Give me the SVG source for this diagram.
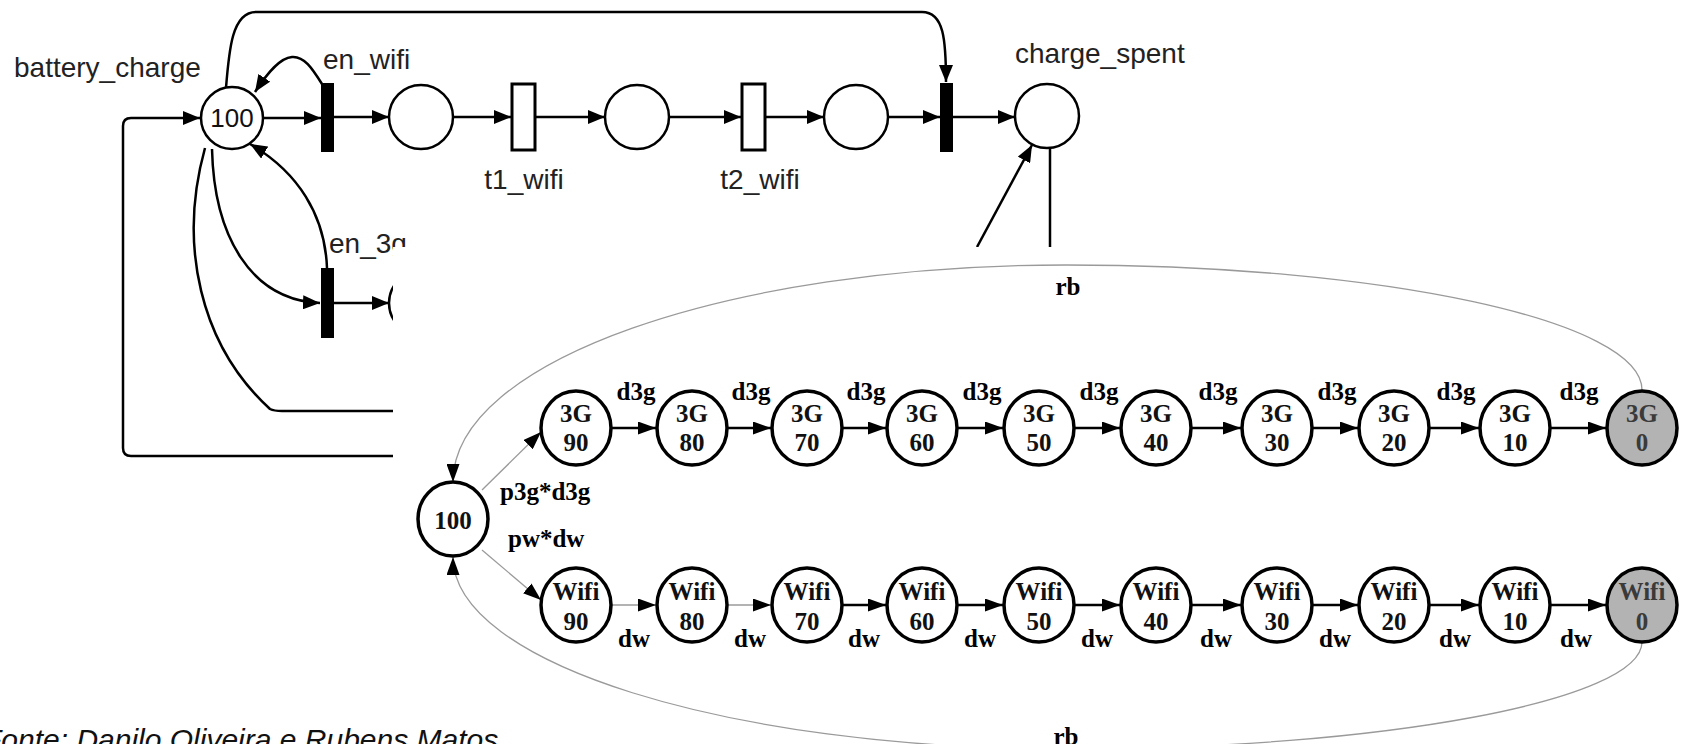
<svg xmlns="http://www.w3.org/2000/svg" width="1685" height="744" viewBox="0 0 1685 744">
  <style>
    .pn-line { fill: none; stroke: #000; stroke-width: 2.5; }
    .place { fill: #fff; stroke: #000; stroke-width: 2.5; }
    .tr-imm { fill: #000; }
    .tr-timed { fill: #fff; stroke: #000; stroke-width: 3; }
    .pn-label { font-family: "Liberation Sans", Arial, sans-serif; font-size: 28px; fill: #222; }
    .pn-token { font-family: "Liberation Sans", Arial, sans-serif; font-size: 26px; fill: #111; text-anchor: middle; }
    .state { fill: #fff; stroke: #000; stroke-width: 3.5; }
    .state-abs { fill: #b3b3b3; stroke: #000; stroke-width: 3.5; }
    .st-text { font-family: "Liberation Serif", "Times New Roman", serif; font-size: 25px; font-weight: bold; fill: #111; text-anchor: middle; }
    .st-text-abs { font-family: "Liberation Serif", "Times New Roman", serif; font-size: 25px; font-weight: bold; fill: #3a3a3a; text-anchor: middle; }
    .rate { font-family: "Liberation Serif", "Times New Roman", serif; font-size: 25px; font-weight: bold; fill: #000; text-anchor: middle; }
    .rate-start { font-family: "Liberation Serif", "Times New Roman", serif; font-size: 25px; font-weight: bold; fill: #000; }
    .mc-edge { fill: none; stroke: #000; stroke-width: 2.5; }
    .mc-thin { fill: none; stroke: #9a9a9a; stroke-width: 1.3; }
    .caption { font-family: "Liberation Sans", Arial, sans-serif; font-size: 30px; font-style: italic; fill: #111; }
  </style>
  <defs>
    <marker id="arrP" markerUnits="userSpaceOnUse" markerWidth="17" markerHeight="14" refX="17" refY="7" orient="auto">
      <path d="M0,0 L17,7 L0,14 Z" fill="#000"/>
    </marker>
    <marker id="arrM" markerUnits="userSpaceOnUse" markerWidth="18" markerHeight="13" refX="18" refY="6.5" orient="auto">
      <path d="M0,0 L18,6.5 L0,13 Z" fill="#000"/>
    </marker>
    <clipPath id="pnClip">
      <path d="M0,0 H1685 V247 H393 V744 H0 Z"/>
    </clipPath>
  </defs>

  <rect width="1685" height="744" fill="#fff"/>

  <!-- Petri net (lower right part hidden behind the chain panel) -->
  <g id="petri-net" clip-path="url(#pnClip)">
    <g id="pn-arcs">
      <path class="pn-line" d="M226,88 C229,50 232,12 256,12 H922 C944,12 946,40 946,82" marker-end="url(#arrP)"/>
      <path class="pn-line" d="M322,84 C312,68 304,56 292,57 C280,58 268,72 255,92" marker-end="url(#arrP)"/>
      <path class="pn-line" d="M327,268 C325,215 298,172 250,144" marker-end="url(#arrP)"/>
      <path class="pn-line" d="M212,149 C214,235 250,300 320,303" marker-end="url(#arrP)"/>
      <path class="pn-line" d="M205,148 C178,245 200,345 270,409 Q274,411 282,411 H393"/>
      <path class="pn-line" d="M393,456 H131 Q123,456 123,448 V126 Q123,118 131,118 H200" marker-end="url(#arrP)"/>
      <path class="pn-line" d="M263,118 H321" marker-end="url(#arrP)"/>
      <path class="pn-line" d="M334,117 H389" marker-end="url(#arrP)"/>
      <path class="pn-line" d="M453,117 H511" marker-end="url(#arrP)"/>
      <path class="pn-line" d="M536,117 H605" marker-end="url(#arrP)"/>
      <path class="pn-line" d="M669,117 H741" marker-end="url(#arrP)"/>
      <path class="pn-line" d="M766,117 H824" marker-end="url(#arrP)"/>
      <path class="pn-line" d="M888,117 H940" marker-end="url(#arrP)"/>
      <path class="pn-line" d="M953,117 H1015" marker-end="url(#arrP)"/>
      <path class="pn-line" d="M977,247 L1032,145" marker-end="url(#arrP)"/>
      <path class="pn-line" d="M1050,148 V247"/>
      <path class="pn-line" d="M334,303 H389" marker-end="url(#arrP)"/>
    </g>

    <g id="battery_charge">
      <circle class="place" cx="232" cy="118" r="31"/>
      <text class="pn-token" x="232" y="127">100</text>
      <text class="pn-label" x="14" y="77">battery_charge</text>
    </g>
    <g id="en_wifi">
      <rect class="tr-imm" x="321" y="83" width="13" height="69"/>
      <text class="pn-label" x="323" y="69">en_wifi</text>
    </g>
    <g id="p_wifi_1">
      <circle class="place" cx="421" cy="117" r="32"/>
    </g>
    <g id="t1_wifi">
      <rect class="tr-timed" x="512" y="84" width="23" height="66"/>
      <text class="pn-label" x="524" y="189" text-anchor="middle">t1_wifi</text>
    </g>
    <g id="p_wifi_2">
      <circle class="place" cx="637" cy="117" r="32"/>
    </g>
    <g id="t2_wifi">
      <rect class="tr-timed" x="742" y="84" width="23" height="66"/>
      <text class="pn-label" x="760" y="189" text-anchor="middle">t2_wifi</text>
    </g>
    <g id="p_wifi_3">
      <circle class="place" cx="856" cy="117" r="32"/>
    </g>
    <g id="t_spend_wifi">
      <rect class="tr-imm" x="940" y="83" width="13" height="69"/>
    </g>
    <g id="charge_spent">
      <circle class="place" cx="1047" cy="116" r="32"/>
      <text class="pn-label" x="1015" y="63">charge_spent</text>
    </g>
    <g id="en_3g">
      <rect class="tr-imm" x="321" y="268" width="13" height="70"/>
      <text class="pn-label" x="329" y="253">en_3g</text>
    </g>
    <g id="p_3g_1">
      <circle class="place" cx="421" cy="303" r="32"/>
    </g>
  </g>

  <!-- Markov chain -->
  <g id="mc-edges">
    <path class="mc-thin" d="M1642,390 C1642,321 1384,265 1066,265 C727,265 453,361 453,482" marker-end="url(#arrM)"/>
    <path class="mc-thin" d="M1642,642 C1642,700 1384,749 1066,749 C727,749 453,663 453,557" marker-end="url(#arrM)"/>
    <path class="mc-thin" d="M482,490 L541,432" marker-end="url(#arrM)"/>
    <path class="mc-thin" d="M482,550 L541,600" marker-end="url(#arrM)"/>
    <!-- 3G chain -->
    <path class="mc-edge" d="M612,428 H656" marker-end="url(#arrM)"/>
    <path class="mc-edge" d="M728,428 H771" marker-end="url(#arrM)"/>
    <path class="mc-edge" d="M843,428 H886" marker-end="url(#arrM)"/>
    <path class="mc-edge" d="M958,428 H1003" marker-end="url(#arrM)"/>
    <path class="mc-edge" d="M1075,428 H1120" marker-end="url(#arrM)"/>
    <path class="mc-edge" d="M1192,428 H1241" marker-end="url(#arrM)"/>
    <path class="mc-edge" d="M1313,428 H1358" marker-end="url(#arrM)"/>
    <path class="mc-edge" d="M1430,428 H1479" marker-end="url(#arrM)"/>
    <path class="mc-edge" d="M1551,428 H1606" marker-end="url(#arrM)"/>
    <!-- Wifi chain -->
    <path class="mc-thin" d="M612,605 H656" marker-end="url(#arrM)"/>
    <path class="mc-thin" d="M728,605 H771" marker-end="url(#arrM)"/>
    <path class="mc-edge" d="M843,605 H886" marker-end="url(#arrM)"/>
    <path class="mc-edge" d="M958,605 H1003" marker-end="url(#arrM)"/>
    <path class="mc-edge" d="M1075,605 H1120" marker-end="url(#arrM)"/>
    <path class="mc-edge" d="M1192,605 H1241" marker-end="url(#arrM)"/>
    <path class="mc-edge" d="M1313,605 H1358" marker-end="url(#arrM)"/>
    <path class="mc-edge" d="M1430,605 H1479" marker-end="url(#arrM)"/>
    <path class="mc-edge" d="M1551,605 H1606" marker-end="url(#arrM)"/>
  </g>

  <g id="mc-labels">
    <text class="rate" x="1068" y="295">rb</text>
    <text class="rate" x="1066" y="745">rb</text>
    <text class="rate-start" x="500" y="500">p3g*d3g</text>
    <text class="rate-start" x="508" y="547">pw*dw</text>
    <text class="rate" x="636" y="400">d3g</text>
    <text class="rate" x="751" y="400">d3g</text>
    <text class="rate" x="866" y="400">d3g</text>
    <text class="rate" x="982" y="400">d3g</text>
    <text class="rate" x="1099" y="400">d3g</text>
    <text class="rate" x="1218" y="400">d3g</text>
    <text class="rate" x="1337" y="400">d3g</text>
    <text class="rate" x="1456" y="400">d3g</text>
    <text class="rate" x="1579" y="400">d3g</text>
    <text class="rate" x="634" y="647">dw</text>
    <text class="rate" x="750" y="647">dw</text>
    <text class="rate" x="864" y="647">dw</text>
    <text class="rate" x="980" y="647">dw</text>
    <text class="rate" x="1097" y="647">dw</text>
    <text class="rate" x="1216" y="647">dw</text>
    <text class="rate" x="1335" y="647">dw</text>
    <text class="rate" x="1455" y="647">dw</text>
    <text class="rate" x="1576" y="647">dw</text>
  </g>

  <g id="s100">
    <ellipse class="state" cx="453" cy="519" rx="35" ry="37"/>
    <text class="st-text" x="453" y="529" font-size="29">100</text>
  </g>

  <g id="s3g90"><ellipse class="state" cx="576" cy="428" rx="35" ry="37"/><text class="st-text" x="576" y="422">3G</text><text class="st-text" x="576" y="451">90</text></g>
  <g id="s3g80"><ellipse class="state" cx="692" cy="428" rx="35" ry="37"/><text class="st-text" x="692" y="422">3G</text><text class="st-text" x="692" y="451">80</text></g>
  <g id="s3g70"><ellipse class="state" cx="807" cy="428" rx="35" ry="37"/><text class="st-text" x="807" y="422">3G</text><text class="st-text" x="807" y="451">70</text></g>
  <g id="s3g60"><ellipse class="state" cx="922" cy="428" rx="35" ry="37"/><text class="st-text" x="922" y="422">3G</text><text class="st-text" x="922" y="451">60</text></g>
  <g id="s3g50"><ellipse class="state" cx="1039" cy="428" rx="35" ry="37"/><text class="st-text" x="1039" y="422">3G</text><text class="st-text" x="1039" y="451">50</text></g>
  <g id="s3g40"><ellipse class="state" cx="1156" cy="428" rx="35" ry="37"/><text class="st-text" x="1156" y="422">3G</text><text class="st-text" x="1156" y="451">40</text></g>
  <g id="s3g30"><ellipse class="state" cx="1277" cy="428" rx="35" ry="37"/><text class="st-text" x="1277" y="422">3G</text><text class="st-text" x="1277" y="451">30</text></g>
  <g id="s3g20"><ellipse class="state" cx="1394" cy="428" rx="35" ry="37"/><text class="st-text" x="1394" y="422">3G</text><text class="st-text" x="1394" y="451">20</text></g>
  <g id="s3g10"><ellipse class="state" cx="1515" cy="428" rx="35" ry="37"/><text class="st-text" x="1515" y="422">3G</text><text class="st-text" x="1515" y="451">10</text></g>
  <g id="s3g0"><ellipse class="state-abs" cx="1642" cy="428" rx="35" ry="37"/><text class="st-text-abs" x="1642" y="422">3G</text><text class="st-text-abs" x="1642" y="451">0</text></g>

  <g id="swifi90"><ellipse class="state" cx="576" cy="605" rx="35" ry="37"/><text class="st-text" x="576" y="600">Wifi</text><text class="st-text" x="576" y="630">90</text></g>
  <g id="swifi80"><ellipse class="state" cx="692" cy="605" rx="35" ry="37"/><text class="st-text" x="692" y="600">Wifi</text><text class="st-text" x="692" y="630">80</text></g>
  <g id="swifi70"><ellipse class="state" cx="807" cy="605" rx="35" ry="37"/><text class="st-text" x="807" y="600">Wifi</text><text class="st-text" x="807" y="630">70</text></g>
  <g id="swifi60"><ellipse class="state" cx="922" cy="605" rx="35" ry="37"/><text class="st-text" x="922" y="600">Wifi</text><text class="st-text" x="922" y="630">60</text></g>
  <g id="swifi50"><ellipse class="state" cx="1039" cy="605" rx="35" ry="37"/><text class="st-text" x="1039" y="600">Wifi</text><text class="st-text" x="1039" y="630">50</text></g>
  <g id="swifi40"><ellipse class="state" cx="1156" cy="605" rx="35" ry="37"/><text class="st-text" x="1156" y="600">Wifi</text><text class="st-text" x="1156" y="630">40</text></g>
  <g id="swifi30"><ellipse class="state" cx="1277" cy="605" rx="35" ry="37"/><text class="st-text" x="1277" y="600">Wifi</text><text class="st-text" x="1277" y="630">30</text></g>
  <g id="swifi20"><ellipse class="state" cx="1394" cy="605" rx="35" ry="37"/><text class="st-text" x="1394" y="600">Wifi</text><text class="st-text" x="1394" y="630">20</text></g>
  <g id="swifi10"><ellipse class="state" cx="1515" cy="605" rx="35" ry="37"/><text class="st-text" x="1515" y="600">Wifi</text><text class="st-text" x="1515" y="630">10</text></g>
  <g id="swifi0"><ellipse class="state-abs" cx="1642" cy="605" rx="35" ry="37"/><text class="st-text-abs" x="1642" y="600">Wifi</text><text class="st-text-abs" x="1642" y="630">0</text></g>

  <text class="caption" x="-17" y="750">Fonte: Danilo Oliveira e Rubens Matos</text>
</svg>
